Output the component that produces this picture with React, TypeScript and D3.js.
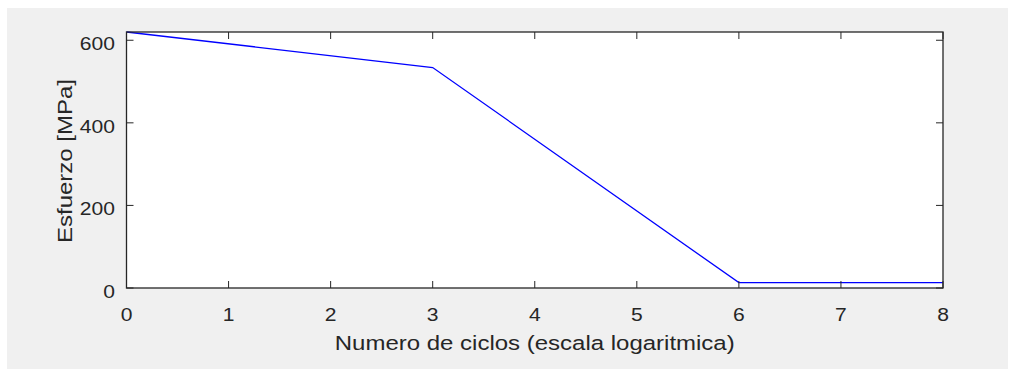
import { useEffect, useRef } from 'react';
import * as d3 from 'd3';

// S-N curve (log cycles vs stress)
const cycles = [0, 3, 6, 8];
const stress = [620, 534, 13, 13];
const xTicks = [0, 1, 2, 3, 4, 5, 6, 7, 8];
const yTicks = [0, 200, 400, 600];

const xLabel = 'Numero de ciclos (escala logaritmica)';
const yLabel = 'Esfuerzo [MPa]';

export default function App() {
  const svgRef = useRef<SVGSVGElement>(null);
  const width = 1009;
  const height = 369;

  useEffect(() => {
    if (!svgRef.current) return;
    const svg = d3.select(svgRef.current);
    svg.selectAll('*').remove();

    const margin = { top: 32, right: 66, bottom: 81, left: 126.5 };
    const innerWidth = width - margin.left - margin.right;
    const innerHeight = height - margin.top - margin.bottom;
    const font = 'Liberation Sans, Arial, Helvetica, sans-serif';
    const axisColor = '#262626';
    const widen = 1.17; // text in the reference renders a bit wider

    // figure background
    svg.append('rect')
      .attr('x', 7).attr('y', 8)
      .attr('width', width - 8).attr('height', height - 8)
      .attr('fill', '#f0f0f0');

    const g = svg.append('g')
      .attr('transform', `translate(${margin.left},${margin.top})`);

    const x = d3.scaleLinear().domain([0, 8]).range([0, innerWidth]);
    const y = d3.scaleLinear().domain([0, d3.max(stress) || 0]).range([innerHeight, 0]);

    g.append('rect')
      .attr('width', innerWidth).attr('height', innerHeight)
      .attr('fill', '#fff');

    const data = cycles.map((c, i) => ({ c, s: stress[i] }));
    const line = d3.line<{ c: number; s: number }>()
      .x(d => x(d.c))
      .y(d => y(d.s));

    g.append('path')
      .datum(data)
      .attr('fill', 'none')
      .attr('stroke', '#0000ff')
      .attr('stroke-width', 1.3)
      .attr('d', line);

    // ticks (inside, on both sides like MATLAB box)
    const tickLen = 7;
    xTicks.forEach(t => {
      const px = x(t);
      g.append('line').attr('x1', px).attr('x2', px)
        .attr('y1', innerHeight).attr('y2', innerHeight - tickLen)
        .attr('stroke', axisColor);
      g.append('line').attr('x1', px).attr('x2', px)
        .attr('y1', 0).attr('y2', tickLen)
        .attr('stroke', axisColor);
      g.append('text')
        .attr('class', 'lbl')
        .attr('x', px).attr('y', innerHeight + 33)
        .attr('text-anchor', 'middle')
        .attr('font-family', font).attr('font-size', 18)
        .attr('fill', axisColor)
        .text(t);
    });

    yTicks.forEach(t => {
      const py = y(t);
      g.append('line').attr('x1', 0).attr('x2', tickLen)
        .attr('y1', py).attr('y2', py)
        .attr('stroke', axisColor);
      g.append('line').attr('x1', innerWidth).attr('x2', innerWidth - tickLen)
        .attr('y1', py).attr('y2', py)
        .attr('stroke', axisColor);
      g.append('text')
        .attr('class', 'lbl')
        .attr('x', -11.5).attr('y', py + 9.7)
        .attr('text-anchor', 'end')
        .attr('font-family', font).attr('font-size', 18)
        .attr('fill', axisColor)
        .text(t);
    });

    // box
    g.append('rect')
      .attr('width', innerWidth).attr('height', innerHeight)
      .attr('fill', 'none')
      .attr('stroke', axisColor)
      .attr('stroke-width', 1.3);

    g.append('text')
      .attr('class', 'lbl')
      .attr('x', innerWidth / 2).attr('y', innerHeight + 62.3)
      .attr('text-anchor', 'middle')
      .attr('font-family', font).attr('font-size', 20.5)
      .attr('fill', axisColor)
      .text(xLabel);

    g.append('text')
      .attr('class', 'lbl')
      .attr('transform', `translate(-54.5,${innerHeight / 2 + 1}) rotate(-90)`)
      .attr('text-anchor', 'middle')
      .attr('font-family', font).attr('font-size', 20.5)
      .attr('fill', axisColor)
      .text(yLabel);

    // widen the text a little to match the reference rendering
    g.selectAll<SVGTextElement, unknown>('text.lbl').each(function () {
      const len = this.getComputedTextLength();
      d3.select(this)
        .attr('textLength', len * widen)
        .attr('lengthAdjust', 'spacingAndGlyphs');
    });
  }, []);

  return (
    <svg
      ref={svgRef}
      width={width}
      height={height}
      style={{ position: 'absolute', left: 0, top: 0 }}
    />
  );
}
